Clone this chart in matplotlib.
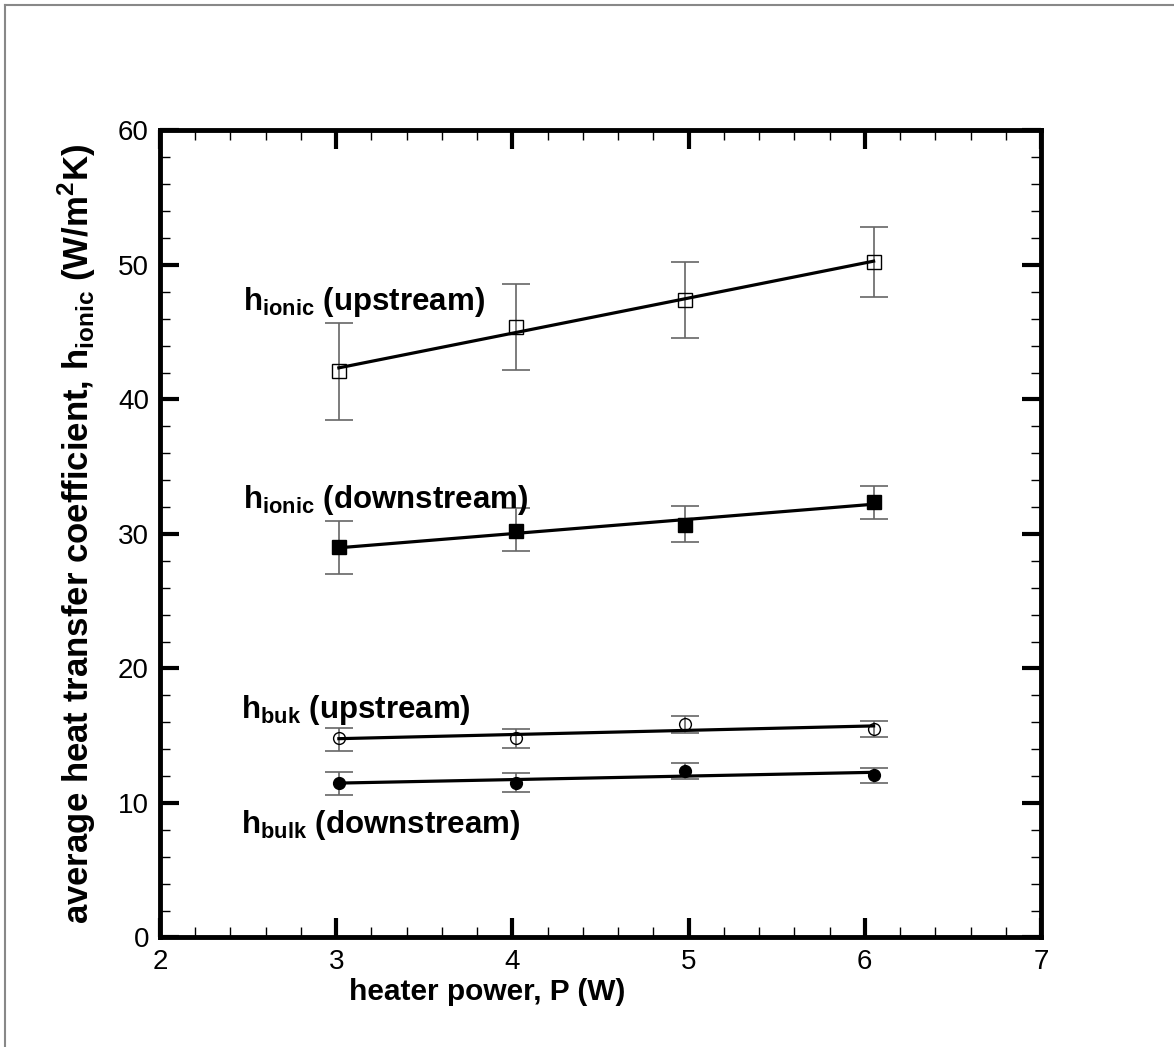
import numpy as np
import matplotlib
matplotlib.use('Agg')
import matplotlib.pyplot as plt
from matplotlib.ticker import MultipleLocator
from matplotlib.lines import Line2D

plt.rcParams['font.family'] = ['Liberation Sans', 'DejaVu Sans']
plt.rcParams['mathtext.fontset'] = 'custom'
plt.rcParams['mathtext.rm'] = 'Liberation Sans:bold'
plt.rcParams['mathtext.bf'] = 'Liberation Sans:bold'

# heater power (W)
power = [3.015, 4.02, 4.98, 6.05]

# h_ionic upstream
ion_up = [42.1, 45.4, 47.4, 50.2]
ion_up_hi = [45.7, 48.6, 50.2, 52.8]
ion_up_lo = [38.5, 42.2, 44.6, 47.6]

# h_ionic downstream
ion_dn = [29.0, 30.2, 30.7, 32.4]
ion_dn_hi = [31.0, 31.9, 32.1, 33.6]
ion_dn_lo = [27.0, 28.7, 29.4, 31.1]

# h_bulk upstream
bulk_up = [14.8, 14.8, 15.9, 15.5]
bulk_up_hi = [15.6, 15.5, 16.5, 16.1]
bulk_up_lo = [13.9, 14.1, 15.2, 14.9]

# h_bulk downstream
bulk_dn = [11.5, 11.5, 12.4, 12.1]
bulk_dn_hi = [12.3, 12.2, 13.0, 12.6]
bulk_dn_lo = [10.6, 10.8, 11.8, 11.5]

labels = [r'h$\mathbf{_{ionic}}$ (upstream)', r'h$\mathbf{_{ionic}}$ (downstream)',
          r'h$\mathbf{_{buk}}$ (upstream)', r'h$\mathbf{_{bulk}}$ (downstream)']
label_pos = [(2.47, 46.65), (2.47, 31.9), (2.46, 16.3), (2.46, 7.8)]

fig = plt.figure(figsize=(11.74, 10.47), dpi=100)
ax = fig.add_axes([0.1363, 0.1046, 0.7504, 0.7708])

series = [
    (ion_up, ion_up_hi, ion_up_lo, 's', 'none', 10.5),
    (ion_dn, ion_dn_hi, ion_dn_lo, 's', 'black', 10.5),
    (bulk_up, bulk_up_hi, bulk_up_lo, 'o', 'none', 8.5),
    (bulk_dn, bulk_dn_hi, bulk_dn_lo, 'o', 'black', 8.5),
]
x = np.array(power)
for y, hi, lo, mk, fc, ms in series:
    y = np.array(y)
    err = [y - np.array(lo), np.array(hi) - y]
    ax.errorbar(x, y, yerr=err, fmt='none', ecolor='#666666', elinewidth=1.2,
                capsize=10, capthick=1.2, zorder=2)
    ax.plot(x, y, linestyle='none', marker=mk, markersize=ms, markerfacecolor=fc,
            markeredgecolor='black', markeredgewidth=1.0, zorder=3)
    k, b = np.polyfit(x, y, 1)
    xl = np.array([x[0], x[-1]])
    ax.plot(xl, k * xl + b, color='black', lw=2.3, zorder=4)

for txt, (tx, ty) in zip(labels, label_pos):
    ax.text(tx, ty, txt, fontsize=22.5, fontweight='bold', ha='left', va='baseline')

ax.set_xlim(2, 7)
ax.set_ylim(0, 60)
ax.xaxis.set_major_locator(MultipleLocator(1))
ax.xaxis.set_minor_locator(MultipleLocator(0.2))
ax.yaxis.set_major_locator(MultipleLocator(10))
ax.yaxis.set_minor_locator(MultipleLocator(2))
ax.tick_params(which='both', direction='in', top=True, right=True)
ax.tick_params(which='major', length=14, width=3, labelsize=20, pad=8)
ax.tick_params(which='minor', length=7, width=1)
for s in ax.spines.values():
    s.set_linewidth(3.5)

ax.set_xlabel('heater power, P (W)', fontsize=21.5, fontweight='bold')
ax.xaxis.set_label_coords(0.371, -0.05)
ax.set_ylabel(r'average heat transfer coefficient, h$_{\mathrm{ionic}}$ (W/m$^{\mathrm{2}}$K)',
              fontsize=25, fontweight='bold', labelpad=14)

# thin frame around the page
fig.add_artist(Line2D([0.0045, 0.0045], [0, 0.995], transform=fig.transFigure,
                      color='#888888', lw=1.5))
fig.add_artist(Line2D([0.0045, 1.0], [0.995, 0.995], transform=fig.transFigure,
                      color='#888888', lw=1.5))

fig.savefig('out.png', dpi=100)
